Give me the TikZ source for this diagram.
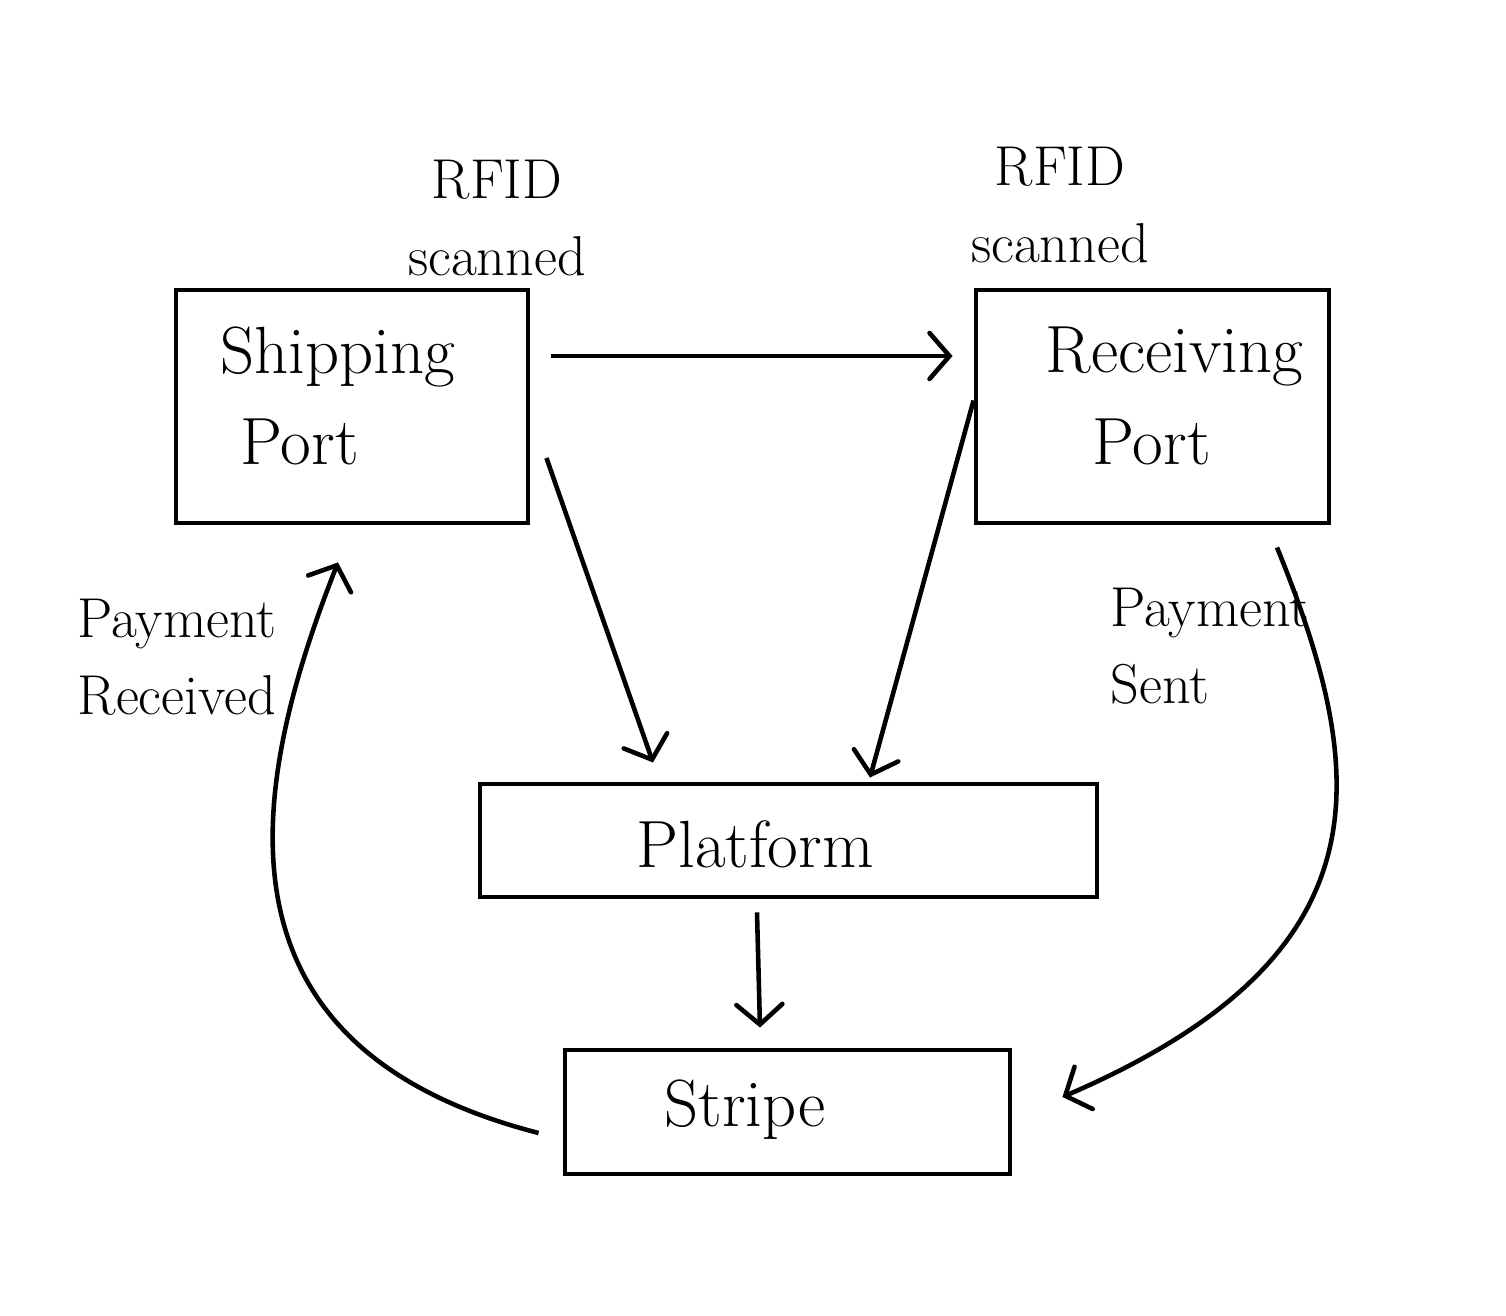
\documentclass[tikz,border=0pt]{standalone}
\usetikzlibrary{arrows.meta}
\tikzset{
  box/.style={draw,line width=1.4pt,inner sep=0pt},
  lbl/.style={font=\fontsize{16}{22}\selectfont,inner sep=0pt},
  txt/.style={font=\fontsize{19}{26}\selectfont,inner sep=0pt},
  arr/.style={line width=1.3pt,-{Straight Barb[length=2mm,width=4.6mm,line cap=round]}}
}
\begin{document}
\begin{tikzpicture}
\useasboundingbox (0,0) rectangle (15.06,13.16);

\node[box,minimum width=3.52cm,minimum height=2.33cm] (ship) at (3.52,9.095) {};
\node[box,minimum width=3.53cm,minimum height=2.33cm] (recv) at (11.525,9.095) {};
\node[box,minimum width=6.17cm,minimum height=1.13cm] (plat) at (7.885,4.755) {};
\node[box,minimum width=4.45cm,minimum height=1.24cm] (stripe) at (7.875,2.04) {};

\node[txt,align=left,anchor=west] (shiptxt) at (2.2,9.2) {Shipping\\\hspace{2mm}Port};
\node[txt,align=left,anchor=west] (recvtxt) at (10.45,9.2) {Receiving\\\hspace{4.7mm}Port};
\node[txt] (plattxt) at (7.55,4.72) {Platform};
\node[txt] (stripetxt) at (7.45,2.06) {Stripe};

\node[lbl,align=center] (rfid1) at (4.97,10.98) {RFID\\scanned};
\node[lbl,align=center] (rfid2) at (10.6,11.11) {RFID\\scanned};
\node[lbl,align=center] (paidin) at (1.77,6.59) {Payment\\Received};
\node[lbl,align=left,anchor=west] (paidout) at (11.1,6.7) {Payment\\Sent};

\draw[arr] ([xshift=2.1mm,yshift=5.05mm]ship.east) -- ([xshift=-2.1mm,yshift=5.05mm]recv.west);
\draw[arr] ([xshift=1.6mm,yshift=-5.15mm]ship.east) -- ([xshift=-13.55mm,yshift=1.9mm]plat.north);
\draw[arr] ([yshift=0.6mm]recv.west) -- ([xshift=8.15mm,yshift=0.4mm]plat.north);
\draw[arr] ([xshift=-3.15mm,yshift=-1.3mm]plat.south) -- ([xshift=-2.75mm,yshift=2mm]stripe.north);

% payments
\draw[arr] ([xshift=12.45mm,yshift=-2.2mm]recv.south) .. controls (13.7,5.4) and (13.9,3.6) .. ([xshift=5mm,yshift=1.5mm]stripe.east);
\draw[arr] ([xshift=-2.4mm,yshift=-2.1mm]stripe.west) .. controls (2.0,2.7) and (2.5,5.3) .. ([xshift=-1.4mm,yshift=-3.7mm]ship.south);

\end{tikzpicture}
\end{document}
